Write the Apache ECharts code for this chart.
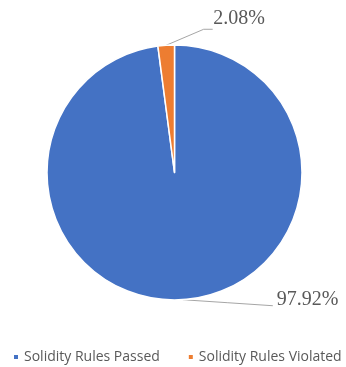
<!DOCTYPE html>
<html>
<head>
<meta charset="utf-8">
<script src="https://cdn.jsdelivr.net/npm/echarts@6/dist/echarts.min.js"></script>
<style>
html,body{margin:0;padding:0;background:#fff;}
#chart{width:346px;height:367px;}
</style>
</head>
<body>
<div id="chart"></div>
<script>
var categories = ['Solidity Rules Passed', 'Solidity Rules Violated'];
var values = [97.92, 2.08];
var colors = ['#4472C4', '#ED7D31'];

var chart = echarts.init(document.getElementById('chart'), null, {renderer: 'canvas'});
var option = {
  animation: false,
  backgroundColor: '#ffffff',
  color: colors,
  legend: {
    data: categories,
    left: 12,
    top: 350,
    width: 334,
    padding: 0,
    icon: 'rect',
    itemWidth: 6,
    itemHeight: 6,
    itemGap: 27,
    textStyle: {fontFamily: 'Open Sans', fontSize: 14, color: '#595959'}
  },
  series: [{
    type: 'pie',
    center: [174.5, 172.5],
    radius: [0, 127.5],
    startAngle: 90,
    clockwise: true,
    data: categories.map(function (c, i) { return {name: c, value: values[i]}; }),
    itemStyle: {borderColor: '#ffffff', borderWidth: 1.5},
    emphasis: {disabled: true},
    label: {
      show: true,
      position: 'outside',
      formatter: function (p) { return p.value.toFixed(2) + '%'; },
      fontFamily: 'Liberation Serif',
      fontSize: 20,
      color: '#595959'
    },
    labelLine: {show: true, length: 5, length2: 10, lineStyle: {color: '#A6A6A6', width: 1}},
    labelLayout: function (p) {
      var s = p.labelLinePoints[0];
      if (p.dataIndex === 1) {
        return {
          x: s[0] + 47, y: s[1] - 27, align: 'left', verticalAlign: 'middle',
          labelLinePoints: [s, [s[0] + 37.5, s[1] - 16], [s[0] + 46.5, s[1] - 16]]
        };
      }
      return {
        x: s[0] + 94, y: s[1] + 0, align: 'left', verticalAlign: 'middle',
        labelLinePoints: [s, [s[0] + 45, s[1] + 3], [s[0] + 90, s[1] + 6]]
      };
    }
  }]
};
chart.setOption(option);
</script>
</body>
</html>
